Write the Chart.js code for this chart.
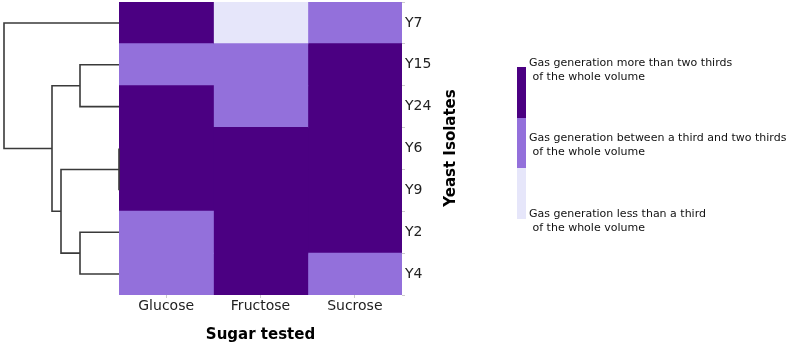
<!DOCTYPE html>
<html>
<head>
<meta charset="utf-8">
<script src="https://cdn.jsdelivr.net/npm/chart.js@4.4.1/dist/chart.umd.min.js"></script>
<style>
  html, body { margin: 0; padding: 0; background: #ffffff; }
  #wrap { position: relative; width: 790px; height: 343px; overflow: hidden; background: #fff; font-family: "DejaVu Sans", sans-serif; }
  #heat { position: absolute; left: 0; top: 0; }
  #dendro { position: absolute; left: 0; top: 2px; }
  #ytitle { position: absolute; left: 450px; top: 148px; transform: translate(-50%, -50%) rotate(-90deg); font-weight: bold; font-size: 15px; color: #000; white-space: nowrap; }
  .legbox { position: absolute; left: 517px; width: 9px; }
  .legtxt { position: absolute; left: 529px; font-size: 11px; line-height: 13.5px; color: #111; white-space: pre; }
</style>
</head>
<body>
<div id="wrap">
  <canvas id="heat" width="790" height="343"></canvas>
  <canvas id="dendro" width="125" height="293"></canvas>
  <div id="ytitle">Yeast Isolates</div>
  <div id="legend"></div>
</div>
<script>
// ---- data ----
const isolates = ["Y7", "Y15", "Y24", "Y6", "Y9", "Y2", "Y4"];
const sugars = ["Glucose", "Fructose", "Sucrose"];
// gas level: 1 = less than a third, 2 = between a third and two thirds, 3 = more than two thirds
const glucose  = [3, 2, 3, 3, 3, 2, 2];
const fructose = [1, 2, 2, 3, 3, 3, 3];
const sucrose  = [2, 3, 3, 3, 3, 3, 2];
const levelColors = ["#e6e6fa", "#9370db", "#4b0082"];
const levelLabels = [
  "Gas generation less than a third\n of the whole volume",
  "Gas generation between a third and two thirds\n of the whole volume",
  "Gas generation more than two thirds\n of the whole volume"
];
// dendrogram merges: [left node, right node, linkage height]; leaves are 0..6 in isolates order
const merges = [
  [3, 4, 0],
  [5, 6, 39],
  [1, 2, 39],
  [7, 8, 58],
  [9, 10, 67],
  [0, 11, 115]
];
const dendroMax = 119;

// ---- heatmap ----
const values = [glucose, fructose, sucrose];
const tickFont = { family: "DejaVu Sans", size: 14 };
new Chart(document.getElementById("heat"), {
  type: "bar",
  data: {
    labels: isolates,
    datasets: sugars.map((s, j) => ({
      label: s,
      data: isolates.map(() => [j, j + 1]),
      backgroundColor: values[j].map(v => levelColors[v - 1]),
      borderWidth: 0,
      barPercentage: 1,
      categoryPercentage: 1,
      grouped: false,
      inflateAmount: 0.5
    }))
  },
  options: {
    indexAxis: "y",
    responsive: false,
    animation: false,
    layout: { padding: { left: 119, top: 2, right: 0, bottom: 0 } },
    plugins: { legend: { display: false }, tooltip: { enabled: false } },
    scales: {
      x: {
        type: "linear", min: 0, max: 3, position: "bottom",
        afterFit(s) { s.height = 48; s.paddingLeft = 0; s.paddingRight = 0; },
        afterBuildTicks(s) { s.ticks = [0.5, 1.5, 2.5].map(v => ({ value: v })); },
        ticks: { callback: v => sugars[Math.floor(v)], font: tickFont, color: "#222", padding: 0, maxRotation: 0, autoSkip: false },
        grid: { drawOnChartArea: false, tickLength: 3, color: "#cccccc" },
        border: { display: false },
        title: { display: true, text: "Sugar tested", font: { family: "DejaVu Sans", size: 15, weight: "bold" }, color: "#000", padding: { top: 0, bottom: -1 } }
      },
      y: {
        type: "category", position: "right",
        afterFit(s) { s.width = 388; s.paddingTop = 0; s.paddingBottom = 0; },
        ticks: { font: tickFont, color: "#222", padding: 0 },
        grid: { drawOnChartArea: false, tickLength: 3, color: "#cccccc" },
        border: { display: false }
      }
    }
  }
});

// ---- dendrogram ----
const nodePos = isolates.map((_, i) => ({ y: i + 0.5, h: 0 }));
const segments = [];
merges.forEach(([a, b, h]) => {
  const A = nodePos[a], B = nodePos[b];
  segments.push([{ x: A.h, y: A.y }, { x: h, y: A.y }, { x: h, y: B.y }, { x: B.h, y: B.y }]);
  nodePos.push({ y: (A.y + B.y) / 2, h: h });
});
new Chart(document.getElementById("dendro"), {
  type: "scatter",
  data: {
    datasets: segments.map(pts => ({
      data: pts, showLine: true, borderColor: "#3a3a3a", borderWidth: 1.6,
      pointRadius: 0, clip: false, tension: 0
    }))
  },
  options: {
    responsive: false,
    animation: false,
    layout: { padding: { left: 0, right: 6, top: 0, bottom: 0 } },
    plugins: { legend: { display: false }, tooltip: { enabled: false } },
    scales: {
      x: { type: "linear", min: 0, max: dendroMax, reverse: true, display: false },
      y: { type: "linear", min: 0, max: isolates.length, reverse: true, display: false }
    }
  }
});

// ---- legend (colour bar with labels) ----
const legend = document.getElementById("legend");
const barTop = 67, segH = 50.7;
const labelTops = [56, 131, 207];
for (let k = 0; k < 3; k++) {
  const lvl = 2 - k; // top = highest level
  const box = document.createElement("div");
  box.className = "legbox";
  box.style.top = (barTop + k * segH) + "px";
  box.style.height = segH + "px";
  box.style.background = levelColors[lvl];
  legend.appendChild(box);
  const t = document.createElement("div");
  t.className = "legtxt";
  t.style.top = labelTops[k] + "px";
  t.textContent = levelLabels[lvl];
  legend.appendChild(t);
}
</script>
</body>
</html>
